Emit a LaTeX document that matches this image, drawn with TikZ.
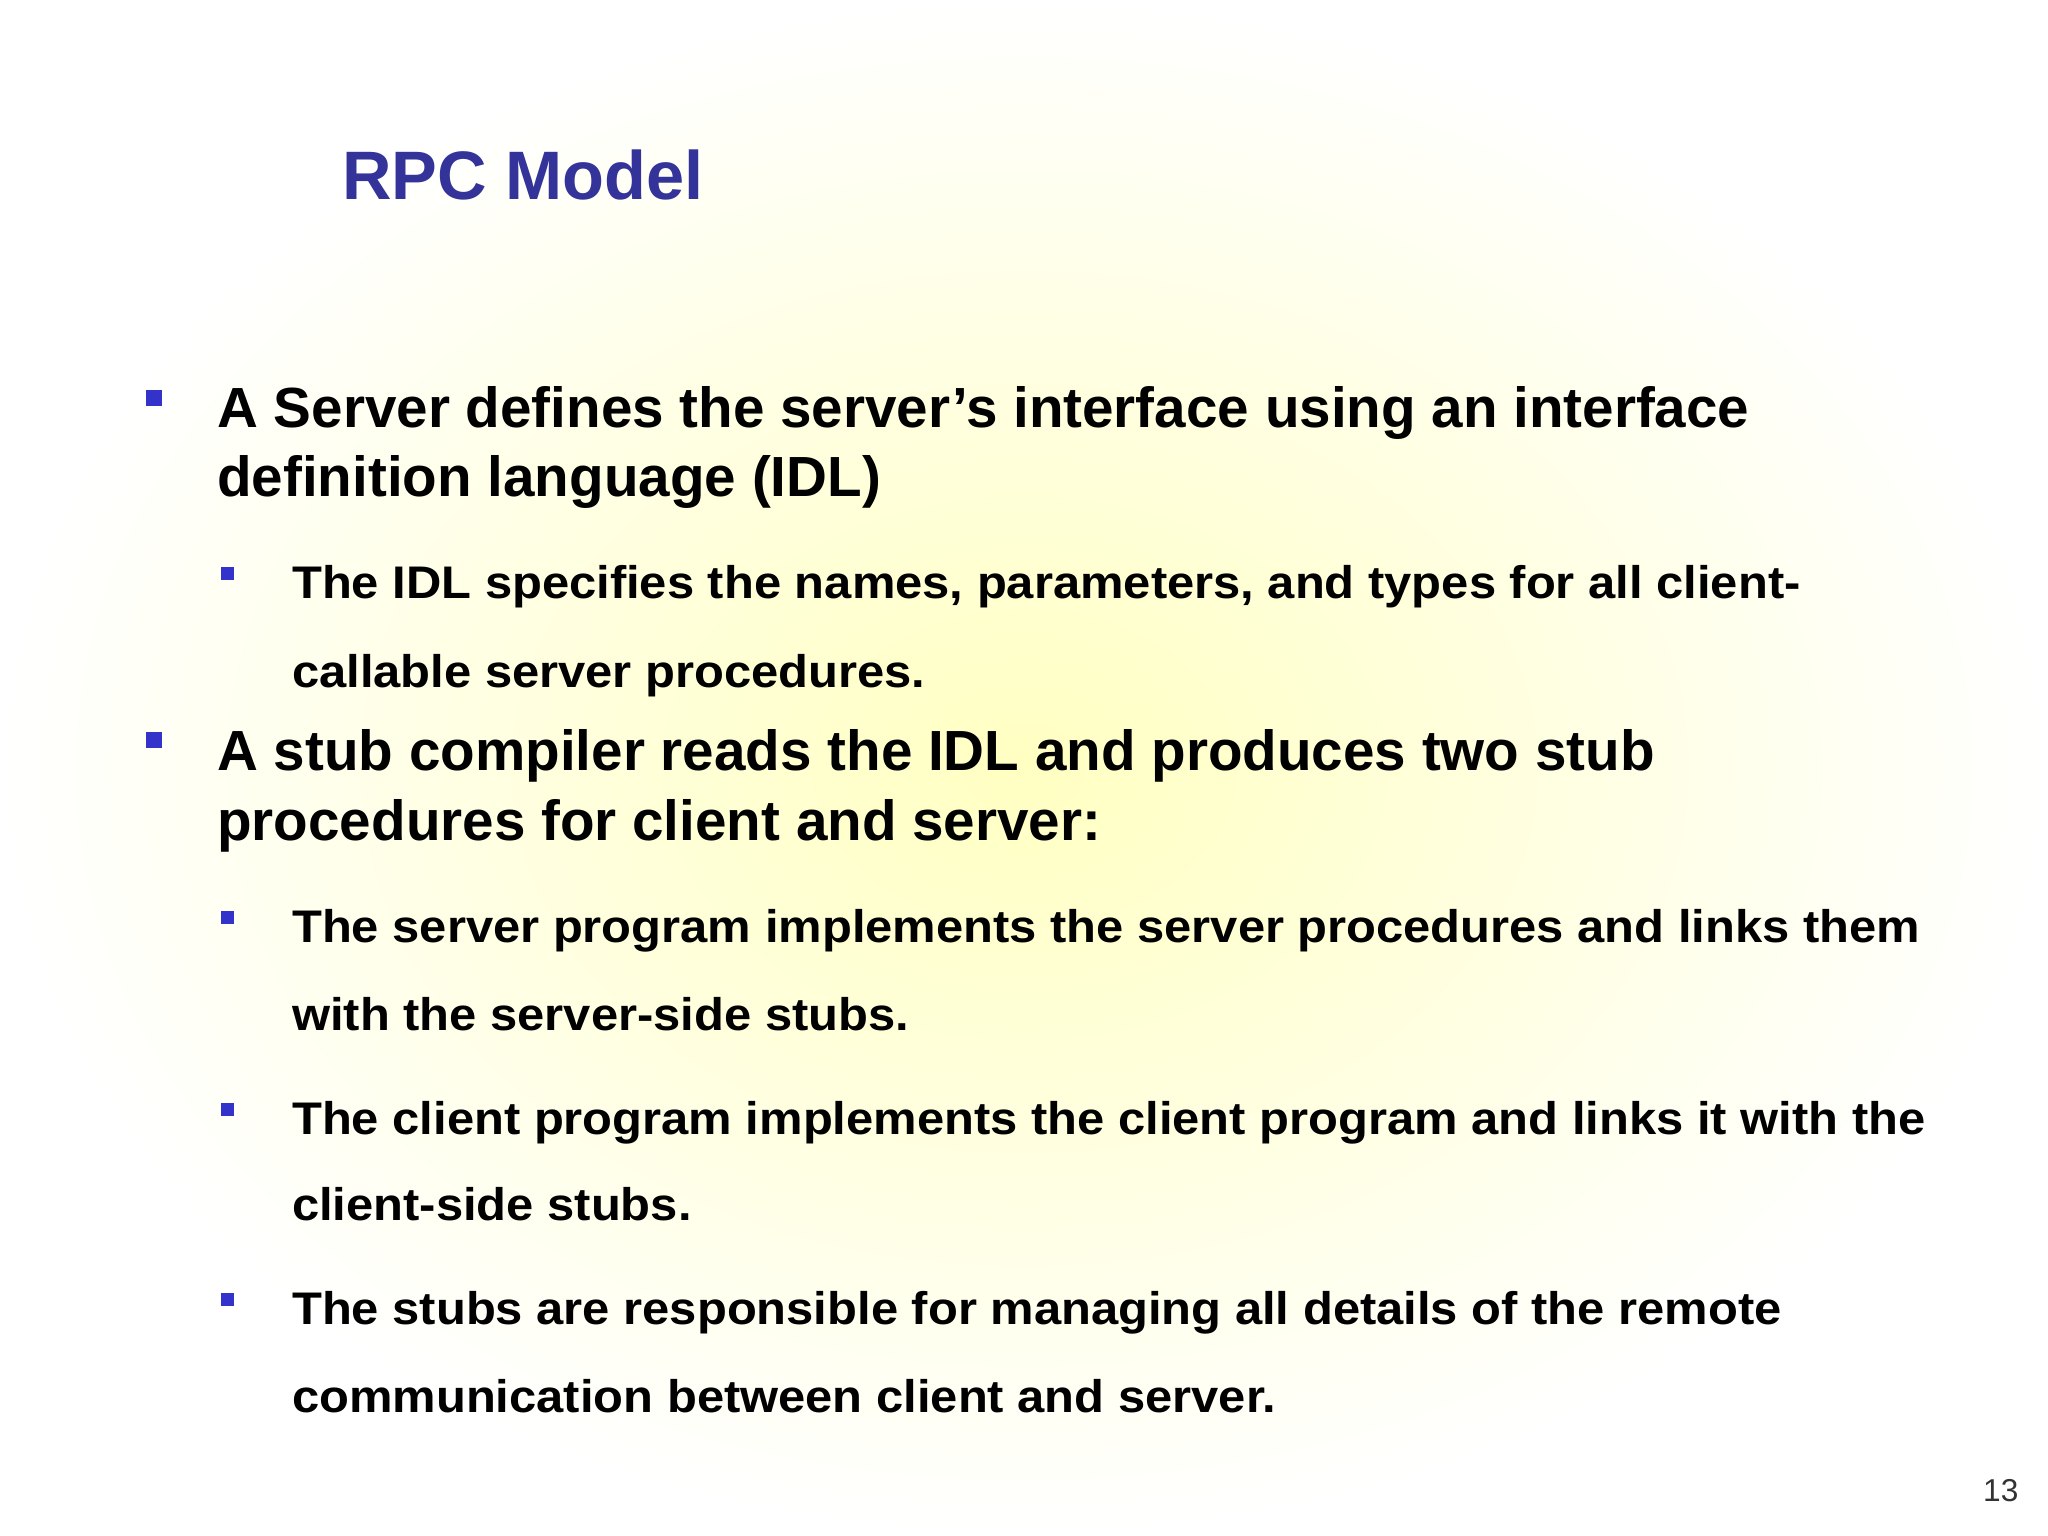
\documentclass[tikz,border=0pt]{standalone}
\usepackage{fontspec}
\setmainfont{Liberation Sans}
\newfontfamily\widesans[FakeStretch=1.07]{Liberation Sans}
\begin{document}
\begin{tikzpicture}[x=0.013128cm,y=-0.013128cm,
  big/.style={anchor=base west,inner sep=0pt,font=\fontsize{16.1}{18}\selectfont\bfseries},
  small/.style={anchor=base west,inner sep=0pt,font=\widesans\fontsize{13}{15}\selectfont\bfseries},
  bb/.style={fill=blue!75!black!80,minimum size=0.16cm,inner sep=0pt},
  sb/.style={fill=blue!75!black!80,minimum size=0.13cm,inner sep=0pt}]
\definecolor{titleblue}{RGB}{51,51,153}
\useasboundingbox (0,0) rectangle (1560,1170);
\shade[inner color=yellow!24,outer color=white] (0,0) rectangle (1560,1170);
\node[anchor=base west,inner sep=0pt,font=\fontsize{19.5}{24}\selectfont\bfseries,text=titleblue] (t) at (260,152) {RPC Model};
\node[bb] (q1) at (117,303) {};
\node[big] (b1a) at (165,326) {A Server defines the server’s interface using an interface};
\node[big] (b1b) at (165,378) {definition language (IDL)};
\node[sb] (r1) at (173,437) {};
\node[small] (s1a) at (222,456) {The IDL specifies the names, parameters, and types for all client-};
\node[small] (s1b) at (222,524) {callable server procedures.};
\node[bb] (q2) at (117,564) {};
\node[big] (b2a) at (165,587) {A stub compiler reads the IDL and produces two stub};
\node[big] (b2b) at (165,640) {procedures for client and server:};
\node[sb] (r2) at (173,699) {};
\node[small] (s2a) at (222,718) {The server program implements the server procedures and links them};
\node[small] (s2b) at (222,785) {with the server-side stubs.};
\node[sb] (r3) at (173,845) {};
\node[small] (s3a) at (222,864) {The client program implements the client program and links it with the};
\node[small] (s3b) at (222,930) {client-side stubs.};
\node[sb] (r4) at (173,990) {};
\node[small] (s4a) at (222,1009) {The stubs are responsible for managing all details of the remote};
\node[small] (s4b) at (222,1076) {communication between client and server.};
\node[anchor=base east,inner sep=0pt,font=\fontsize{9}{11}\selectfont,text=black!80] (pg) at (1538,1144) {13};
\end{tikzpicture}
\end{document}
